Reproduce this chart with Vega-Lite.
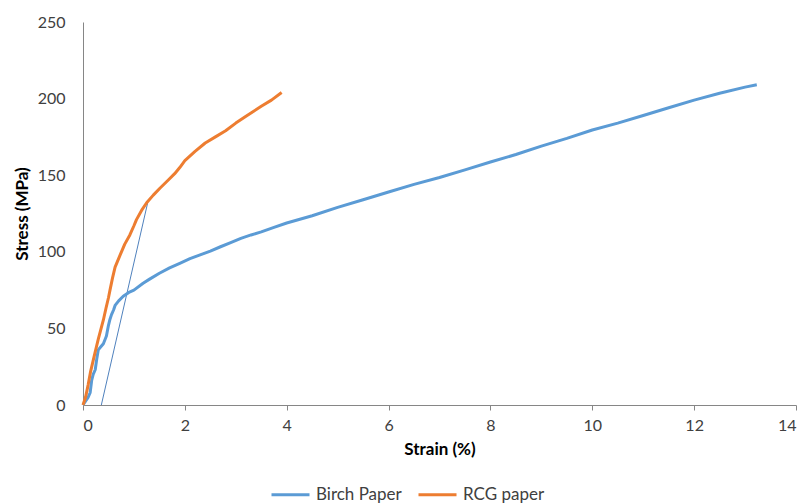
{
  "$schema": "https://vega.github.io/schema/vega-lite/v6.json",
  "width": 713,
  "height": 383,
  "autosize": {"type": "none"},
  "padding": {"left": 83, "top": 22, "right": 10, "bottom": 99},
  "background": "white",
  "config": {
    "view": {"stroke": null},
    "font": "Lato",
    "axis": {"grid": false, "domainColor": "#868686", "tickColor": "#868686", "labelColor": "#404040", "titleColor": "#000000", "labelFont": "Lato", "titleFont": "Lato", "labelFontSize": 16, "titleFontSize": 17, "titleFontWeight": "bold"}
  },
  "datasets": {
    "curves": [
      {"series": "Birch Paper", "strain": 0, "stress": 0},
      {"series": "Birch Paper", "strain": 0.04, "stress": 2},
      {"series": "Birch Paper", "strain": 0.1, "stress": 5},
      {"series": "Birch Paper", "strain": 0.14, "stress": 8},
      {"series": "Birch Paper", "strain": 0.17, "stress": 16},
      {"series": "Birch Paper", "strain": 0.2, "stress": 20},
      {"series": "Birch Paper", "strain": 0.24, "stress": 23},
      {"series": "Birch Paper", "strain": 0.27, "stress": 30},
      {"series": "Birch Paper", "strain": 0.3, "stress": 36},
      {"series": "Birch Paper", "strain": 0.35, "stress": 38},
      {"series": "Birch Paper", "strain": 0.4, "stress": 40},
      {"series": "Birch Paper", "strain": 0.46, "stress": 45},
      {"series": "Birch Paper", "strain": 0.5, "stress": 52},
      {"series": "Birch Paper", "strain": 0.53, "stress": 56},
      {"series": "Birch Paper", "strain": 0.56, "stress": 59},
      {"series": "Birch Paper", "strain": 0.6, "stress": 62},
      {"series": "Birch Paper", "strain": 0.63, "stress": 65},
      {"series": "Birch Paper", "strain": 0.7, "stress": 68},
      {"series": "Birch Paper", "strain": 0.79, "stress": 71},
      {"series": "Birch Paper", "strain": 0.9, "stress": 73.5},
      {"series": "Birch Paper", "strain": 1.0, "stress": 75},
      {"series": "Birch Paper", "strain": 1.18, "stress": 79.5},
      {"series": "Birch Paper", "strain": 1.3, "stress": 82},
      {"series": "Birch Paper", "strain": 1.5, "stress": 86},
      {"series": "Birch Paper", "strain": 1.7, "stress": 89.5},
      {"series": "Birch Paper", "strain": 1.9, "stress": 92.5},
      {"series": "Birch Paper", "strain": 2.1, "stress": 95.5},
      {"series": "Birch Paper", "strain": 2.3, "stress": 98},
      {"series": "Birch Paper", "strain": 2.5, "stress": 100.5},
      {"series": "Birch Paper", "strain": 2.7, "stress": 103.3},
      {"series": "Birch Paper", "strain": 2.9, "stress": 106},
      {"series": "Birch Paper", "strain": 3.1, "stress": 108.8},
      {"series": "Birch Paper", "strain": 3.3, "stress": 111},
      {"series": "Birch Paper", "strain": 3.5, "stress": 113},
      {"series": "Birch Paper", "strain": 3.75, "stress": 116},
      {"series": "Birch Paper", "strain": 4.0, "stress": 118.8},
      {"series": "Birch Paper", "strain": 4.5, "stress": 123.5},
      {"series": "Birch Paper", "strain": 5.0, "stress": 129},
      {"series": "Birch Paper", "strain": 5.5, "stress": 134},
      {"series": "Birch Paper", "strain": 6.0, "stress": 139},
      {"series": "Birch Paper", "strain": 6.5, "stress": 144},
      {"series": "Birch Paper", "strain": 7.0, "stress": 148.5},
      {"series": "Birch Paper", "strain": 7.5, "stress": 153.5},
      {"series": "Birch Paper", "strain": 8.0, "stress": 158.6},
      {"series": "Birch Paper", "strain": 8.5, "stress": 163.5},
      {"series": "Birch Paper", "strain": 9.0, "stress": 169},
      {"series": "Birch Paper", "strain": 9.5, "stress": 174},
      {"series": "Birch Paper", "strain": 10.0, "stress": 179.5},
      {"series": "Birch Paper", "strain": 10.5, "stress": 184},
      {"series": "Birch Paper", "strain": 11.0, "stress": 189},
      {"series": "Birch Paper", "strain": 11.5, "stress": 194},
      {"series": "Birch Paper", "strain": 12.0, "stress": 199},
      {"series": "Birch Paper", "strain": 12.5, "stress": 203.5},
      {"series": "Birch Paper", "strain": 13.0, "stress": 207.5},
      {"series": "Birch Paper", "strain": 13.23, "stress": 209},
      {"series": "RCG paper", "strain": 0, "stress": 0},
      {"series": "RCG paper", "strain": 0.05, "stress": 5},
      {"series": "RCG paper", "strain": 0.1, "stress": 13},
      {"series": "RCG paper", "strain": 0.15, "stress": 22},
      {"series": "RCG paper", "strain": 0.235, "stress": 34},
      {"series": "RCG paper", "strain": 0.3, "stress": 43},
      {"series": "RCG paper", "strain": 0.4, "stress": 55.5},
      {"series": "RCG paper", "strain": 0.45, "stress": 63},
      {"series": "RCG paper", "strain": 0.5, "stress": 70},
      {"series": "RCG paper", "strain": 0.53, "stress": 75},
      {"series": "RCG paper", "strain": 0.58, "stress": 83},
      {"series": "RCG paper", "strain": 0.63, "stress": 90},
      {"series": "RCG paper", "strain": 0.73, "stress": 98},
      {"series": "RCG paper", "strain": 0.82, "stress": 105},
      {"series": "RCG paper", "strain": 0.92, "stress": 111},
      {"series": "RCG paper", "strain": 1.0, "stress": 117},
      {"series": "RCG paper", "strain": 1.05, "stress": 121},
      {"series": "RCG paper", "strain": 1.15, "stress": 127},
      {"series": "RCG paper", "strain": 1.25, "stress": 132},
      {"series": "RCG paper", "strain": 1.38, "stress": 137},
      {"series": "RCG paper", "strain": 1.51, "stress": 141.5},
      {"series": "RCG paper", "strain": 1.68, "stress": 147},
      {"series": "RCG paper", "strain": 1.8, "stress": 151},
      {"series": "RCG paper", "strain": 1.9, "stress": 155},
      {"series": "RCG paper", "strain": 2.0, "stress": 159.5},
      {"series": "RCG paper", "strain": 2.2, "stress": 165.5},
      {"series": "RCG paper", "strain": 2.4, "stress": 171},
      {"series": "RCG paper", "strain": 2.6, "stress": 175},
      {"series": "RCG paper", "strain": 2.8, "stress": 179},
      {"series": "RCG paper", "strain": 3.0, "stress": 184},
      {"series": "RCG paper", "strain": 3.2, "stress": 188.5},
      {"series": "RCG paper", "strain": 3.5, "stress": 195},
      {"series": "RCG paper", "strain": 3.7, "stress": 199},
      {"series": "RCG paper", "strain": 3.9, "stress": 204}
    ],
    "offset": [
      {"strain": 0.36, "stress": 0},
      {"strain": 1.27, "stress": 132}
    ]
  },
  "layer": [
    {
      "data": {"name": "offset"},
      "mark": {"type": "line", "color": "#4F81BD", "strokeWidth": 1},
      "encoding": {
        "x": {"field": "strain", "type": "quantitative", "scale": {"domain": [0, 14]}},
        "y": {"field": "stress", "type": "quantitative", "scale": {"domain": [0, 250]}}
      }
    },
    {
      "data": {"name": "curves"},
      "mark": {"type": "line", "strokeWidth": 3, "strokeJoin": "round"},
      "encoding": {
        "x": {
          "field": "strain", "type": "quantitative",
          "scale": {"domain": [0, 14], "nice": false},
          "axis": {"title": "Strain (%)", "values": [0, 2, 4, 6, 8, 10, 12, 14], "tickSize": 5, "labelPadding": 7, "titlePadding": 8}
        },
        "y": {
          "field": "stress", "type": "quantitative",
          "scale": {"domain": [0, 250], "nice": false},
          "axis": {"title": "Stress (MPa)", "values": [0, 50, 100, 150, 200, 250], "ticks": false, "labelPadding": 18, "titlePadding": 6}
        },
        "color": {
          "field": "series", "type": "nominal",
          "scale": {"domain": ["Birch Paper", "RCG paper"], "range": ["#5B9BD5", "#ED7D31"]},
          "legend": {
            "title": null, "orient": "none", "direction": "horizontal",
            "legendX": 187, "legendY": 452,
            "symbolType": "stroke", "symbolSize": 1444, "symbolStrokeWidth": 3,
            "labelFontSize": 17, "labelFont": "Lato", "labelColor": "#404040",
            "labelOffset": 5, "columnPadding": 10
          }
        }
      }
    }
  ]
}
